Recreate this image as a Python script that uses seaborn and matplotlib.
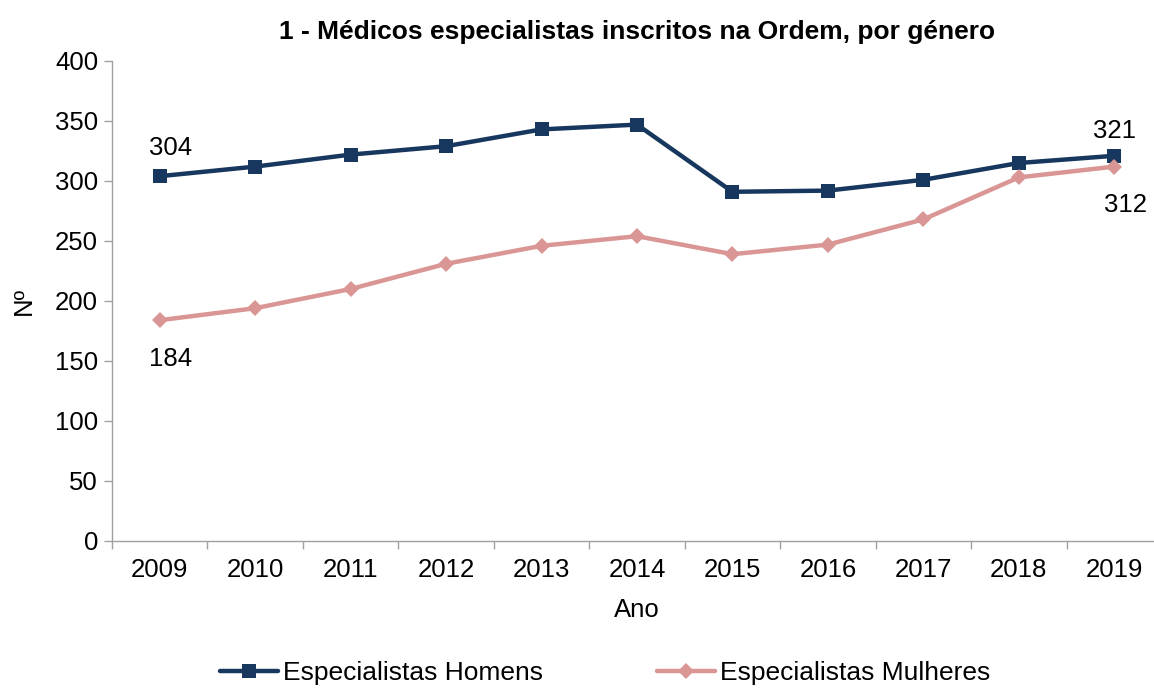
import pandas as pd
import matplotlib.pyplot as plt
import seaborn as sns

anos = [2009, 2010, 2011, 2012, 2013, 2014, 2015, 2016, 2017, 2018, 2019]
homens = [304, 312, 322, 329, 343, 347, 291, 292, 301, 315, 321]
mulheres = [184, 194, 210, 231, 246, 254, 239, 247, 268, 303, 312]

sns.set_style("white")
plt.rcParams['font.family'] = ['Liberation Sans', 'DejaVu Sans']
plt.rcParams['text.color'] = 'black'
plt.rcParams['axes.labelcolor'] = 'black'
plt.rcParams['xtick.labelcolor'] = 'black'
plt.rcParams['ytick.labelcolor'] = 'black'

df = pd.DataFrame({"ano": anos, "Especialistas Homens": homens,
                   "Especialistas Mulheres": mulheres})

fig = plt.figure(figsize=(11.54, 6.88), dpi=100)
ax = fig.add_axes([112 / 1154, 147 / 688, 1050 / 1154, 480 / 688])

sns.lineplot(data=df, x="ano", y="Especialistas Homens", ax=ax, color="#17375E",
             marker="s", markersize=10, markeredgewidth=0, linewidth=3.2,
             label="Especialistas Homens")
sns.lineplot(data=df, x="ano", y="Especialistas Mulheres", ax=ax, color="#D99694",
             marker="D", markersize=8.5, markeredgewidth=0, linewidth=3.2,
             label="Especialistas Mulheres")

ax.set_xlim(anos[0] - 0.5, anos[-1] + 0.5)
ax.set_ylim(0, 400)
ax.set_yticks(range(0, 401, 50))
ax.set_xticks(anos)
ax.set_xticks([a - 0.5 for a in anos] + [anos[-1] + 0.5], minor=True)
ax.tick_params(axis="x", which="major", length=0, labelsize=18.5, pad=12)
ax.tick_params(axis="x", which="minor", length=6, width=1, color="#A0A0A0", direction="out")
ax.tick_params(axis="y", length=6, width=1, color="#A0A0A0", direction="out",
               labelsize=18.5, pad=4)
ax.tick_params(left=True, bottom=True, which="both")

for s in ["top", "right"]:
    ax.spines[s].set_visible(False)
for s in ["left", "bottom"]:
    ax.spines[s].set_color("#A0A0A0")
    ax.spines[s].set_linewidth(1)

ax.set_xlabel("Ano", fontsize=18.5, labelpad=12)
ax.set_ylabel("Nº", fontsize=18.5, labelpad=14)
ax.set_title("1 - Médicos especialistas inscritos na Ordem, por género",
             fontsize=19, fontweight="bold", pad=16)

# rótulos de dados no primeiro e último ano
ax.annotate(str(homens[0]), (anos[0], homens[0]), xytext=(8, 15),
            textcoords="offset points", ha="center", fontsize=18.5)
ax.annotate(str(mulheres[0]), (anos[0], mulheres[0]), xytext=(8, -33),
            textcoords="offset points", ha="center", fontsize=18.5)
ax.annotate(str(homens[-1]), (anos[-1], homens[-1]), xytext=(0, 13),
            textcoords="offset points", ha="center", fontsize=18.5)
ax.annotate(str(mulheres[-1]), (anos[-1], mulheres[-1]), xytext=(8, -33),
            textcoords="offset points", ha="center", fontsize=18.5)

ax.get_legend().remove()
h, l = ax.get_legend_handles_labels()
fig.legend(h, l, loc="center", bbox_to_anchor=(605 / 1154, 1 - 673 / 688), ncol=2,
           frameon=False, fontsize=19, columnspacing=4.3, handlelength=2.2,
           handletextpad=0.2)

fig.savefig("out.png", dpi=100)
